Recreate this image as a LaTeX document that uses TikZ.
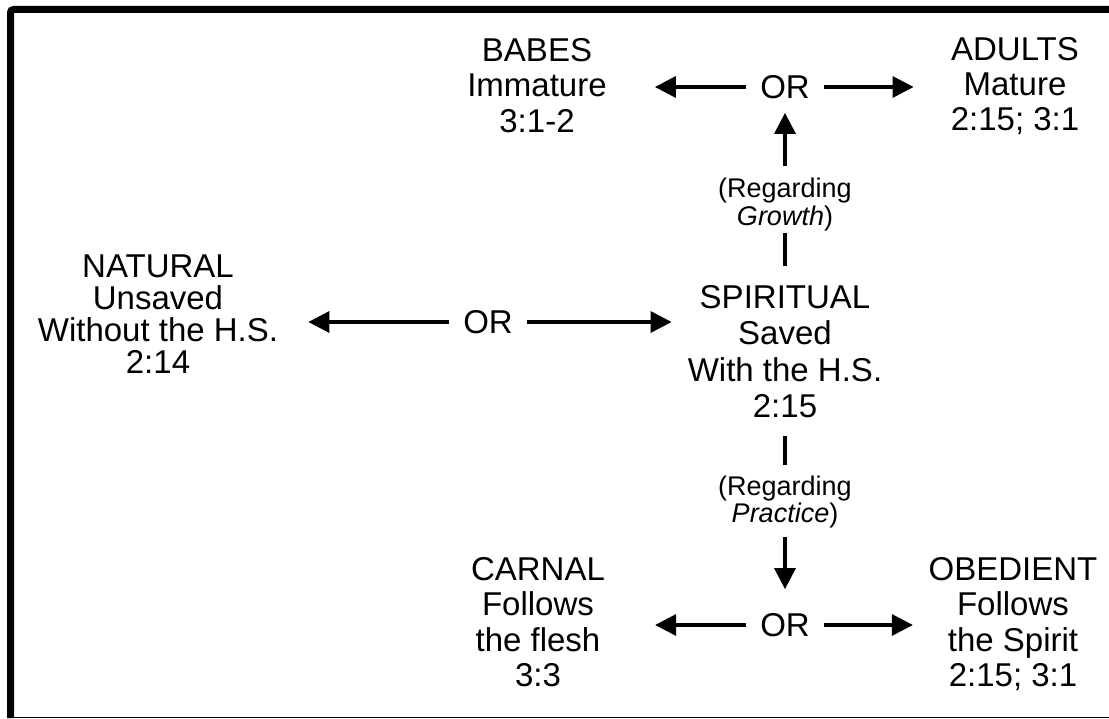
\documentclass[tikz,border=0pt]{standalone}
\usepackage{fontspec}
\setmainfont{Liberation Sans}
\usetikzlibrary{arrows.meta}
\begin{document}
\begin{tikzpicture}[x=1pt,y=-1pt,
  blk/.style={align=center, inner sep=0pt, anchor=north, font=\fontsize{33}{35.5}\selectfont},
  small/.style={align=center, inner sep=0pt, anchor=north, font=\fontsize{27}{27.5}\selectfont},
  ornode/.style={inner xsep=14pt, inner ysep=0pt, font=\fontsize{33}{35}\selectfont},
  conn/.style={line width=3.3pt},
  arr/.style={conn, -{Triangle[length=21pt,width=21pt]}},
  frame/.style={line width=7pt, rounded corners=3pt},
  thinframe/.style={line width=1.3pt}]
\useasboundingbox (0,0) rectangle (1109,719);
% frame
\draw[frame] (1115,9.5) -- (10.5,9.5) -- (10.5,718);
\draw[thinframe] (10.5,717.6) -- (1115,717.6);
% blocks
\node[blk, font=\fontsize{33}{32}\selectfont] (natural) at (158,255) {NATURAL\\Unsaved\\Without the H.S.\\2:14};
\node[blk, font=\fontsize{33}{36.5}\selectfont] (spiritual) at (785,285) {SPIRITUAL\\Saved\\With the H.S.\\2:15};
\node[blk] (babes) at (537,38) {BABES\\Immature\\3:1-2};
\node[blk, font=\fontsize{33}{35}\selectfont] (adults) at (1015,37) {ADULTS\\Mature\\2:15; 3:1};
\node[blk] (carnal) at (538,557) {CARNAL\\Follows\\the flesh\\3:3};
\node[blk] (obedient) at (1013,557) {OBEDIENT\\Follows\\the Spirit\\2:15; 3:1};
\node[ornode] (or1) at (488,322) {OR};
\node[ornode] (or2) at (785,87) {OR};
\node[ornode] (or3) at (785,625) {OR};
\node[small] (growth) at (785,178) {(Regarding\\\textit{Growth})};
\node[small] (practice) at (785,475.5) {(Regarding\\\textit{Practice})};
% horizontal connectors
\draw[arr, shorten >=30pt] (or1.west) -- (natural.east |- or1.west);
\draw[arr, shorten >=16pt] (or1.east) -- (spiritual.west |- or1.east);
\draw[arr, shorten >=48pt] (or2.west) -- (babes.east |- or2.west);
\draw[arr, shorten >=37pt] (or2.east) -- (adults.west |- or2.east);
\draw[arr, shorten >=50pt] (or3.west) -- (carnal.east |- or3.west);
\draw[arr, shorten >=15.6pt] (or3.east) -- (obedient.west |- or3.east);
% vertical connectors
\draw[conn, shorten <=19pt, shorten >=2pt] (spiritual.north) -- (growth.south);
\draw[arr, shorten <=12pt, shorten >=14pt] (growth.north) -- (or2.south);
\draw[conn, shorten <=17.5pt, shorten >=10.5pt] (spiritual.south) -- (practice.north);
\draw[arr, shorten <=8.6pt, shorten >=24pt] (practice.south) -- (or3.north);
\end{tikzpicture}
\end{document}
